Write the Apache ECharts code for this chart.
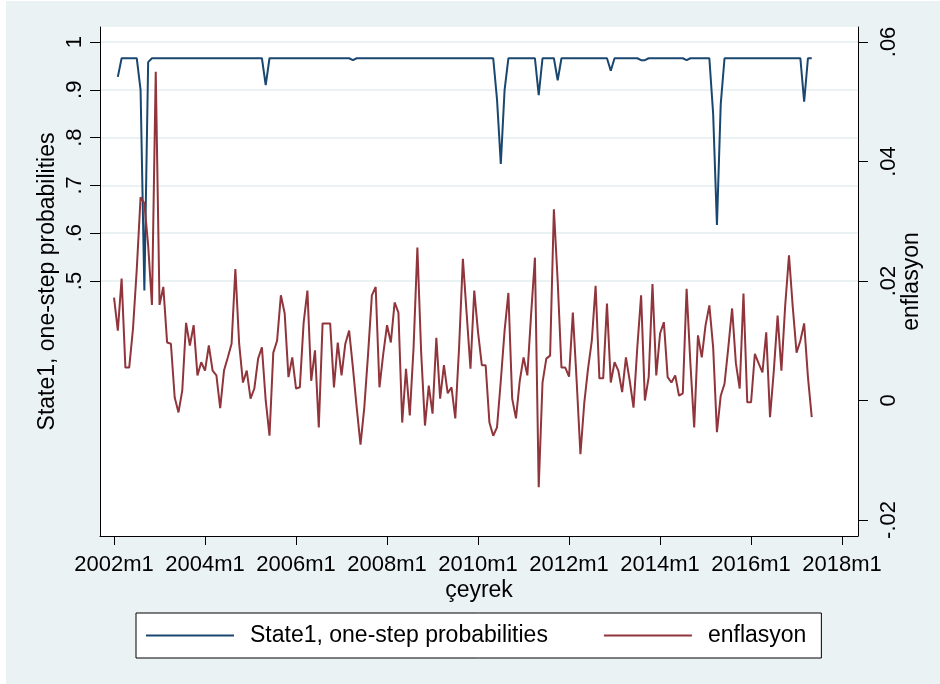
<!DOCTYPE html>
<html>
<head>
<meta charset="utf-8">
<script src="https://cdn.jsdelivr.net/npm/echarts@6.0.0/dist/echarts.min.js"></script>
<style>
  html, body { margin: 0; padding: 0; background: #ffffff; }
  #mychart { position: absolute; left: 6px; top: 1px; width: 934px; height: 683px; }
</style>
</head>
<body>
<div id="mychart"></div>
<script>
// x tick labels (one every 24 months, month 0 = 2002m1)
const xTickLabels = ['2002m1', '2004m1', '2006m1', '2008m1', '2010m1', '2012m1', '2014m1', '2016m1', '2018m1'];
const xTickMonths = [0, 24, 48, 72, 96, 120, 144, 168, 192];
const leftTicks = [0.5, 0.6, 0.7, 0.8, 0.9, 1];
const rightTicks = [-0.02, 0, 0.02, 0.04, 0.06];

// State1, one-step probabilities (2002m1 .. 2017m5), one row per year
const state1 = [
  null, 0.927, 0.966, 0.966, 0.966, 0.966, 0.966, 0.90, 0.48, 0.958, 0.966, 0.966,
  0.966, 0.966, 0.966, 0.966, 0.966, 0.966, 0.966, 0.966, 0.966, 0.966, 0.966, 0.966,
  0.966, 0.966, 0.966, 0.966, 0.966, 0.966, 0.966, 0.966, 0.966, 0.966, 0.966, 0.966,
  0.966, 0.966, 0.966, 0.966, 0.91, 0.966, 0.966, 0.966, 0.966, 0.966, 0.966, 0.966,
  0.966, 0.966, 0.966, 0.966, 0.966, 0.966, 0.966, 0.966, 0.966, 0.966, 0.966, 0.966,
  0.966, 0.966, 0.966, 0.962, 0.966, 0.966, 0.966, 0.966, 0.966, 0.966, 0.966, 0.966,
  0.966, 0.966, 0.966, 0.966, 0.966, 0.966, 0.966, 0.966, 0.966, 0.966, 0.966, 0.966,
  0.966, 0.966, 0.966, 0.966, 0.966, 0.966, 0.966, 0.966, 0.966, 0.966, 0.966, 0.966,
  0.966, 0.966, 0.966, 0.966, 0.966, 0.88, 0.745, 0.90, 0.966, 0.966, 0.966, 0.966,
  0.966, 0.966, 0.966, 0.966, 0.889, 0.966, 0.966, 0.966, 0.966, 0.92, 0.966, 0.966,
  0.966, 0.966, 0.966, 0.966, 0.966, 0.966, 0.966, 0.966, 0.966, 0.966, 0.966, 0.94,
  0.966, 0.966, 0.966, 0.966, 0.966, 0.966, 0.966, 0.962, 0.962, 0.966, 0.966, 0.966,
  0.966, 0.966, 0.966, 0.966, 0.966, 0.966, 0.966, 0.962, 0.966, 0.966, 0.966, 0.966,
  0.966, 0.966, 0.85, 0.617, 0.87, 0.966, 0.966, 0.966, 0.966, 0.966, 0.966, 0.966,
  0.966, 0.966, 0.966, 0.966, 0.966, 0.966, 0.966, 0.966, 0.966, 0.966, 0.966, 0.966,
  0.966, 0.966, 0.875, 0.966, 0.966
];

// enflasyon (2002m1 .. 2017m5), one row per year
const enflasyon = [
  0.0172, 0.0117, 0.0204, 0.0055, 0.0055, 0.012, 0.022, 0.034, 0.033, 0.026, 0.016, 0.055,
  0.016, 0.019, 0.0097, 0.0095, 0.0005, -0.002, 0.0017, 0.013, 0.0092, 0.0126, 0.0042, 0.0064,
  0.005, 0.0092, 0.005, 0.0042, -0.0013, 0.005, 0.0072, 0.0095, 0.022, 0.0095, 0.003, 0.005,
  0.0003, 0.002, 0.007, 0.0089, 0.0, -0.0059, 0.008, 0.01, 0.0176, 0.0146, 0.0039, 0.0072,
  0.002, 0.0022, 0.013, 0.0184, 0.0033, 0.0084, -0.0045, 0.0129, 0.0129, 0.0129, 0.0022, 0.0097,
  0.0042, 0.0095, 0.0117, 0.0055, -0.0012, -0.0074, -0.0012, 0.0078, 0.0176, 0.019, 0.0022, 0.0078,
  0.0126, 0.0097, 0.0164, 0.0147, -0.0037, 0.0053, -0.0025, 0.0089, 0.0256, 0.008, -0.0042, 0.0025,
  -0.0022, 0.0105, 0.0003, 0.0059, 0.0012, 0.0022, -0.003, 0.0089, 0.0237, 0.0145, 0.0053, 0.0184,
  0.0114, 0.0059, 0.0059, -0.0037, -0.0059, -0.0045, 0.0033, 0.0117, 0.018, 0.0003, -0.003, 0.0033,
  0.0072, 0.0042, 0.0145, 0.0239, -0.0145, 0.003, 0.007, 0.0075, 0.032, 0.02, 0.0055, 0.0055,
  0.004, 0.0147, 0.0033, -0.009, -0.0005, 0.0053, 0.01, 0.0192, 0.0037, 0.0037, 0.0162, 0.003,
  0.0064, 0.005, 0.0014, 0.0072, 0.0033, -0.0012, 0.0089, 0.0176, 0.0, 0.0039, 0.0195, 0.0042,
  0.0112, 0.0131, 0.0039, 0.003, 0.0042, 0.0008, 0.0012, 0.0187, 0.0062, -0.0045, 0.0109, 0.0072,
  0.0126, 0.0159, 0.0089, -0.0053, 0.0008, 0.0028, 0.0089, 0.0154, 0.0062, 0.002, 0.0179, -0.0003,
  -0.0003, 0.0078, 0.0062, 0.0047, 0.0114, -0.0028, 0.005, 0.0142, 0.005, 0.0159, 0.0243, 0.0156,
  0.008, 0.01, 0.0129, 0.0039, -0.0028
];

const FONT = '"Liberation Sans", Arial, sans-serif';
const BLUE = '#1a476f';
const RED = '#90353b';

const myChart = echarts.init(document.getElementById('mychart'));

// 0.9 -> ".9", -0.02 -> "-.02", 1 -> "1"
function shortNum(v) {
  if (v === 0) return '0';
  return String(+v.toFixed(2)).replace('0.', '.');
}

const options = {
  animation: false,
  backgroundColor: '#eaf2f3',
  grid: {
    left: 94,
    right: 82,
    top: 26,
    bottom: 148,
    show: true,
    backgroundColor: '#ffffff',
    borderWidth: 0
  },
  legend: {
    left: 130,
    top: 612,
    padding: [11, 15, 11, 10],
    icon: 'rect',
    itemWidth: 88,
    itemHeight: 2,
    itemGap: 56,
    backgroundColor: '#ffffff',
    borderColor: '#000000',
    borderWidth: 1,
    borderRadius: 0,
    textStyle: {
      fontFamily: FONT,
      fontSize: 23,
      color: '#000000',
      padding: [0, 0, 0, 11]
    },
    data: [
      { name: 'State1, one-step probabilities', itemStyle: { color: BLUE } },
      { name: 'enflasyon', itemStyle: { color: RED } }
    ]
  },
  xAxis: {
    type: 'value',
    min: -3.7,
    max: 196.2,
    name: 'çeyrek',
    nameLocation: 'middle',
    nameGap: 43,
    nameMoveOverlap: false,
    nameTextStyle: { fontFamily: FONT, fontSize: 23, color: '#000000' },
    axisLine: { show: true, onZero: false, lineStyle: { color: '#000000', width: 1 } },
    axisTick: { show: true, length: 9, customValues: xTickMonths, lineStyle: { color: '#000000' } },
    axisLabel: {
      customValues: xTickMonths,
      margin: 18,
      fontFamily: FONT,
      fontSize: 22,
      color: '#000000',
      formatter: function (v) {
        return xTickLabels[xTickMonths.indexOf(Math.round(v))] || '';
      }
    },
    splitLine: { show: false }
  },
  yAxis: [
    {
      type: 'value',
      position: 'left',
      min: -0.0335,
      max: 1.0314,
      name: 'State1, one-step probabilities',
      nameLocation: 'middle',
      nameRotate: 90,
      nameGap: 41,
      nameMoveOverlap: false,
      nameTextStyle: { fontFamily: FONT, fontSize: 23, color: '#000000' },
      axisLine: { show: true, onZero: false, lineStyle: { color: '#000000', width: 1 } },
      axisTick: { show: true, length: 10, customValues: leftTicks, lineStyle: { color: '#000000' } },
      axisLabel: {
        customValues: leftTicks,
        rotate: 90,
        margin: 14,
        fontFamily: FONT,
        fontSize: 22,
        color: '#000000',
        formatter: shortNum
      },
      splitLine: { show: true, lineStyle: { color: '#eaf2f3', width: 2 } }
    },
    {
      type: 'value',
      position: 'right',
      min: -0.02268,
      max: 0.0625,
      name: 'enflasyon',
      nameLocation: 'middle',
      nameRotate: 90,
      nameGap: 42,
      nameMoveOverlap: false,
      nameTextStyle: { fontFamily: FONT, fontSize: 23, color: '#000000' },
      axisLine: { show: true, onZero: false, lineStyle: { color: '#000000', width: 1 } },
      axisTick: { show: true, length: 10, customValues: rightTicks, lineStyle: { color: '#000000' } },
      axisLabel: {
        customValues: rightTicks,
        rotate: 90,
        margin: 20,
        fontFamily: FONT,
        fontSize: 22,
        color: '#000000',
        formatter: shortNum
      },
      splitLine: { show: false }
    }
  ],
  series: [
    {
      name: 'State1, one-step probabilities',
      type: 'line',
      yAxisIndex: 0,
      symbol: 'none',
      lineStyle: { color: BLUE, width: 2 },
      itemStyle: { color: BLUE },
      data: state1.map(function (v, i) { return [i, v]; })
    },
    {
      name: 'enflasyon',
      type: 'line',
      yAxisIndex: 1,
      symbol: 'none',
      lineStyle: { color: RED, width: 2 },
      itemStyle: { color: RED },
      data: enflasyon.map(function (v, i) { return [i, v]; })
    }
  ]
};

myChart.setOption(options);
</script>
</body>
</html>
